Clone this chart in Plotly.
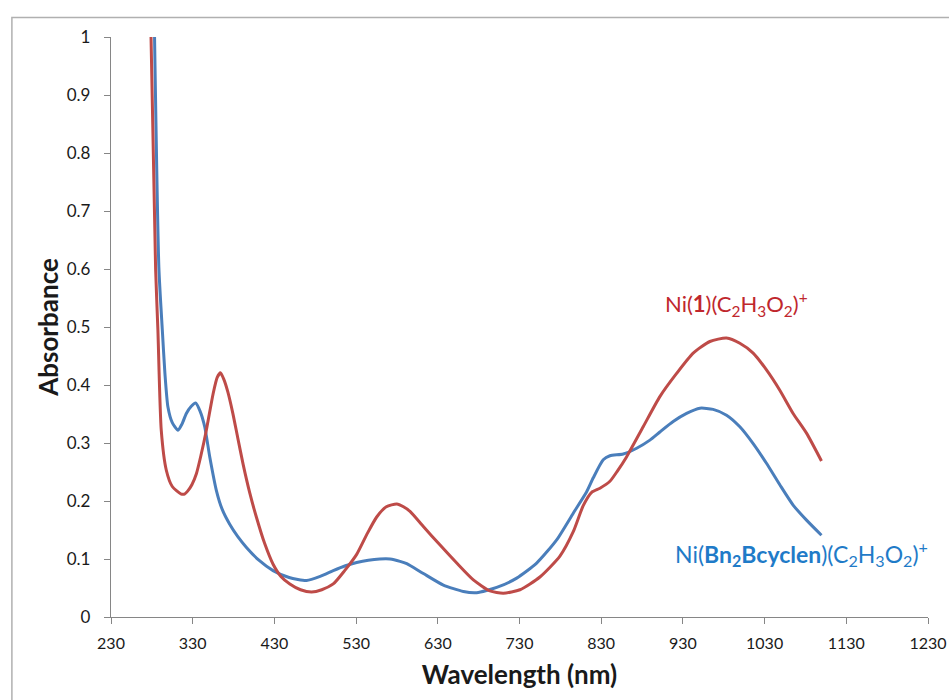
import plotly.graph_objects as go

# Ni(1)(C2H3O2)+  (red)
red_wl = [279, 284.6, 287.4, 291.5, 297.7, 305, 316, 320, 323.8, 329, 334.5, 340, 346.7, 355, 360, 363.9,
          368, 373, 379, 385, 391.6, 400, 408, 418, 428.4, 438, 448.9, 462, 475.5, 488, 502, 516, 530.7,
          543, 555, 567, 579.8, 588, 596, 612.3, 632.8, 653.2, 673.5, 693.9, 710.2, 730.6, 755, 779.5,
          795.8, 808, 818.3, 828.5, 840.7, 850, 861, 881.4, 901.8, 922.3, 942.6, 963, 983.4, 999.7, 1016,
          1032.3, 1048.6, 1064.9, 1081.3, 1099.6]
red_abs = [1.00, 0.60, 0.495, 0.322, 0.253, 0.225, 0.212, 0.212, 0.217, 0.228, 0.247, 0.278, 0.322, 0.385,
           0.413, 0.421, 0.410, 0.388, 0.352, 0.310, 0.264, 0.213, 0.172, 0.127, 0.091, 0.070, 0.057, 0.047,
           0.043, 0.047, 0.057, 0.080, 0.108, 0.142, 0.172, 0.190, 0.195, 0.190, 0.182, 0.156, 0.124, 0.093,
           0.064, 0.045, 0.041, 0.047, 0.069, 0.105, 0.147, 0.192, 0.215, 0.222, 0.234, 0.252, 0.276, 0.328,
           0.380, 0.420, 0.455, 0.475, 0.481, 0.472, 0.455, 0.426, 0.391, 0.351, 0.317, 0.269]

# Ni(Bn2Bcyclen)(C2H3O2)+  (blue)
blue_wl = [283.3, 288.6, 292.8, 296, 299.7, 305, 312, 317, 322.2, 328, 333.6, 339, 344.7, 351, 359, 366,
           375.3, 385, 395.8, 411, 428.4, 448, 469.4, 486, 502, 516, 530.7, 545, 559, 571.6, 583.8, 592,
           612.3, 636.8, 661.3, 677.6, 702.1, 726.6, 751, 775.5, 795.8, 812.2, 820.3, 832.5, 840.7, 857,
           873.4, 889.6, 901.8, 918.1, 934.5, 950.8, 967, 983.4, 999.7, 1016, 1032.3, 1048.6, 1064.9,
           1081.3, 1099.6]
blue_abs = [1.00, 0.602, 0.495, 0.42, 0.362, 0.335, 0.322, 0.333, 0.351, 0.363, 0.369, 0.355, 0.328, 0.275,
            0.218, 0.186, 0.160, 0.139, 0.120, 0.098, 0.080, 0.068, 0.063, 0.070, 0.080, 0.088, 0.094, 0.098,
            0.100, 0.100, 0.096, 0.092, 0.075, 0.055, 0.044, 0.042, 0.051, 0.067, 0.093, 0.133, 0.179, 0.216,
            0.240, 0.271, 0.278, 0.281, 0.291, 0.305, 0.319, 0.337, 0.351, 0.360, 0.358, 0.348, 0.328, 0.299,
            0.265, 0.228, 0.193, 0.167, 0.141]

x_ticks = [230, 330, 430, 530, 630, 730, 830, 930, 1030, 1130, 1230]
y_ticks = [0, 0.1, 0.2, 0.3, 0.4, 0.5, 0.6, 0.7, 0.8, 0.9, 1]
y_labels = ["0", "0.1", "0.2", "0.3", "0.4", "0.5", "0.6", "0.7", "0.8", "0.9", "1"]

label_red = "Ni(<b>1</b>)(C<sub>2</sub>H<sub>3</sub>O<sub>2</sub>)<sup>+</sup>"
label_blue = "Ni(<b>Bn<sub>2</sub>Bcyclen</b>)(C<sub>2</sub>H<sub>3</sub>O<sub>2</sub>)<sup>+</sup>"

fig = go.Figure()
fig.add_trace(go.Scatter(x=blue_wl, y=blue_abs, mode="lines",
                         line=dict(color="#4A7EBB", width=3, shape="spline", smoothing=0.6),
                         showlegend=False, hoverinfo="skip"))
fig.add_trace(go.Scatter(x=red_wl, y=red_abs, mode="lines",
                         line=dict(color="#BE4B48", width=3, shape="spline", smoothing=0.6),
                         showlegend=False, hoverinfo="skip"))

fig.add_annotation(x=995, y=0.540, text=label_red, showarrow=False, xanchor="center", yanchor="middle",
                   font=dict(family="Lato", size=22, color="#C0272D"))
fig.add_annotation(x=1075.5, y=0.109, text=label_blue, showarrow=False, xanchor="center", yanchor="middle",
                   font=dict(family="Lato", size=23, color="#1F7BC8"))

# outer chart border
fig.add_shape(type="rect", xref="paper", yref="paper", x0=-0.1213, x1=1.3, y0=-0.3, y1=1.0336,
              line=dict(color="#B0B0B0", width=1.5), fillcolor="rgba(0,0,0,0)", layer="below")

axis_common = dict(showgrid=False, zeroline=False, showline=True, linecolor="#868686", linewidth=1.3,
                   ticks="outside", ticklen=6, tickcolor="#868686", tickwidth=1.3)

fig.update_xaxes(range=[230, 1230], tickvals=x_ticks, ticktext=[str(v) for v in x_ticks],
                 tickfont=dict(family="Lato", size=16, color="#1a1a1a"), ticklabelstandoff=6,
                 title=dict(text="<b>Wavelength (nm)</b>", font=dict(family="Lato", size=26, color="#1a1a1a"),
                            standoff=14),
                 **axis_common)
fig.update_yaxes(range=[0, 1], tickvals=y_ticks, ticktext=y_labels,
                 tickfont=dict(family="Lato", size=17, color="#1a1a1a"), ticklabelstandoff=10,
                 title=dict(text="<b>Absorbance</b>", font=dict(family="Lato", size=26, color="#1a1a1a"),
                            standoff=0),
                 **axis_common)

fig.update_layout(width=949, height=700, paper_bgcolor="white", plot_bgcolor="white",
                  hovermode=False,
                  margin=dict(l=111, r=21, t=37, b=83, autoexpand=False))

fig.write_html("out.html", config={"displayModeBar": False},
               post_script="document.body.style.margin='0';document.body.style.overflow='hidden';")
